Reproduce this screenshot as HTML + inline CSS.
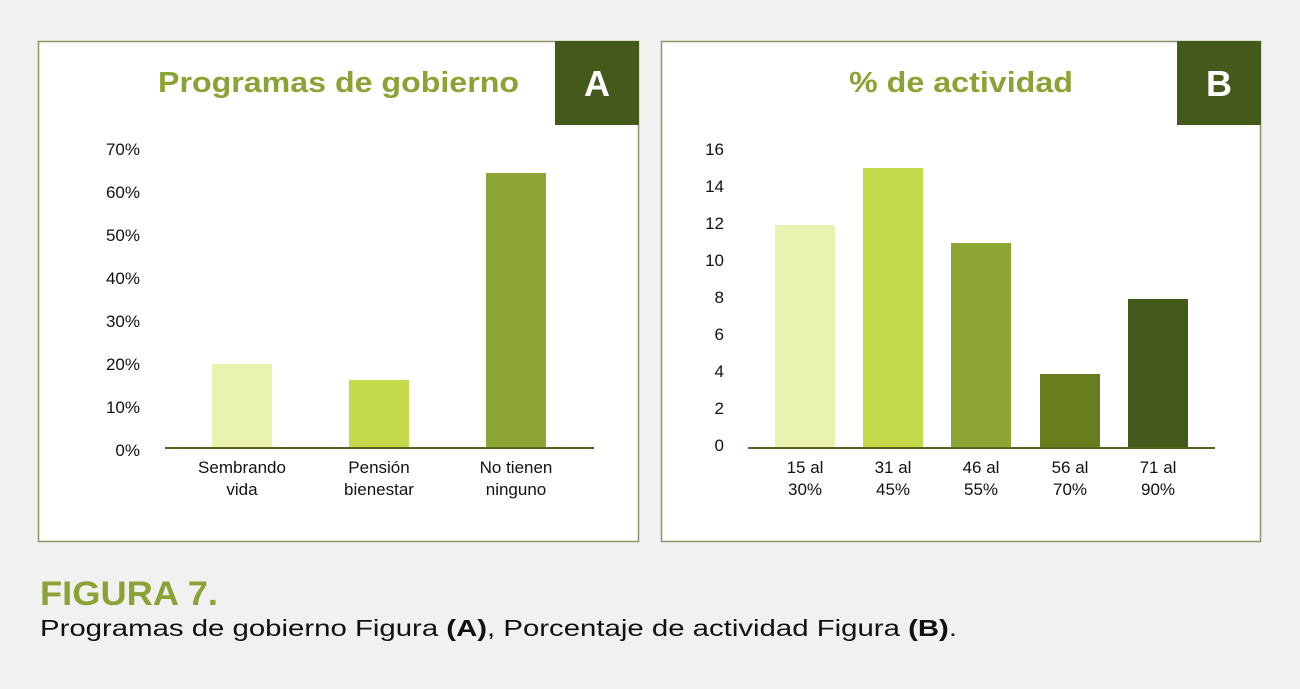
<!DOCTYPE html>
<html><head><meta charset="utf-8"><style>
body{margin:0;background:#f1f1f1;width:1300px;height:684px;overflow:hidden;font-family:"Liberation Sans",sans-serif;}
</style></head><body>
<svg width="1300" height="684" xmlns="http://www.w3.org/2000/svg" font-family="Liberation Sans, sans-serif">
<rect width="1300" height="684" fill="#f1f1f1"/>
<!-- Panel A -->
<rect x="38.5" y="41.5" width="600" height="500" fill="#fff" stroke="#8d9668" stroke-width="1.5"/>
<rect x="555" y="41" width="84" height="84" fill="#435a1a"/>
<text x="597" y="96" font-size="36" font-weight="bold" fill="#fff" text-anchor="middle">A</text>
<text x="158" y="92" font-size="29" font-weight="bold" fill="#8aa334" textLength="361" lengthAdjust="spacingAndGlyphs">Programas de gobierno</text>
<g font-size="17" fill="#111" text-anchor="end">
<text x="140" y="155">70%</text><text x="140" y="198">60%</text><text x="140" y="241">50%</text><text x="140" y="284">40%</text><text x="140" y="327">30%</text><text x="140" y="370">20%</text><text x="140" y="413">10%</text><text x="140" y="456">0%</text>
</g>
<rect x="212" y="364" width="60" height="84" fill="#eaf2b0"/>
<rect x="349" y="380" width="60" height="68" fill="#c5da4a"/>
<rect x="486" y="173" width="60" height="275" fill="#8ca535"/>
<line x1="165" y1="448" x2="594" y2="448" stroke="#55671f" stroke-width="2"/>
<g font-size="17" fill="#111" text-anchor="middle">
<text x="242" y="473">Sembrando</text><text x="242" y="495">vida</text>
<text x="379" y="473">Pensión</text><text x="379" y="495">bienestar</text>
<text x="516" y="473">No tienen</text><text x="516" y="495">ninguno</text>
</g>
<!-- Panel B -->
<rect x="661.5" y="41.5" width="599" height="500" fill="#fff" stroke="#8d9668" stroke-width="1.5"/>
<rect x="1177" y="41" width="84" height="84" fill="#435a1a"/>
<text x="1219" y="96" font-size="36" font-weight="bold" fill="#fff" text-anchor="middle">B</text>
<text x="849" y="92" font-size="29" font-weight="bold" fill="#8aa334" textLength="224" lengthAdjust="spacingAndGlyphs">% de actividad</text>
<g font-size="17" fill="#111" text-anchor="end">
<text x="724" y="155">16</text><text x="724" y="192">14</text><text x="724" y="229">12</text><text x="724" y="266">10</text><text x="724" y="303">8</text><text x="724" y="340">6</text><text x="724" y="377">4</text><text x="724" y="414">2</text><text x="724" y="451">0</text>
</g>
<rect x="775" y="225" width="60" height="223" fill="#eaf2b0"/>
<rect x="863" y="168" width="60" height="280" fill="#c5da4a"/>
<rect x="951" y="243" width="60" height="205" fill="#8ca535"/>
<rect x="1040" y="374" width="60" height="74" fill="#6a7d1e"/>
<rect x="1128" y="299" width="60" height="149" fill="#435a1a"/>
<line x1="748" y1="448" x2="1215" y2="448" stroke="#55671f" stroke-width="2"/>
<g font-size="17" fill="#111" text-anchor="middle">
<text x="805" y="473">15 al</text><text x="805" y="495">30%</text>
<text x="893" y="473">31 al</text><text x="893" y="495">45%</text>
<text x="981" y="473">46 al</text><text x="981" y="495">55%</text>
<text x="1070" y="473">56 al</text><text x="1070" y="495">70%</text>
<text x="1158" y="473">71 al</text><text x="1158" y="495">90%</text>
</g>
<!-- Caption -->
<text x="40" y="605" font-size="34" font-weight="bold" fill="#8aa334" textLength="178" lengthAdjust="spacingAndGlyphs">FIGURA 7.</text>
<text x="40" y="636" font-size="23" fill="#111" textLength="917" lengthAdjust="spacingAndGlyphs">Programas de gobierno Figura <tspan font-weight="bold">(A)</tspan>,  Porcentaje de actividad Figura <tspan font-weight="bold">(B)</tspan>.</text>
</svg>
</body></html>
